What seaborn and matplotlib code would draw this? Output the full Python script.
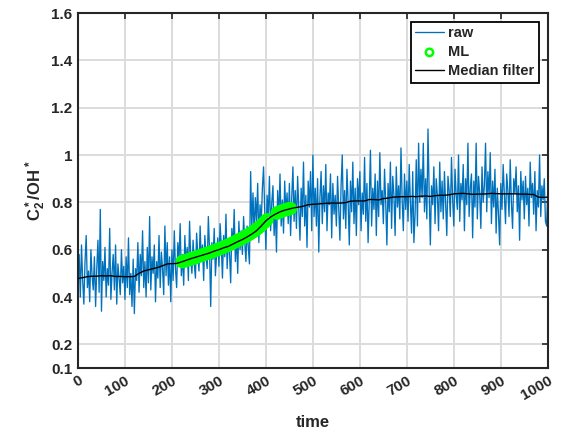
import numpy as np
import pandas as pd
import matplotlib
matplotlib.use("Agg")
import matplotlib.pyplot as plt
import seaborn as sns

# raw signal, every 2.5 time units (0 ... 1000)
raw_values = [
    0.45, 0.58, 0.40, 0.62, 0.47, 0.37, 0.55, 0.66, 0.44, 0.51, 0.38, 0.60, 0.49, 0.43, 0.57, 0.36, 0.52, 0.64, 0.42, 0.77,
    0.34, 0.55, 0.47, 0.61, 0.40, 0.52, 0.45, 0.69, 0.39, 0.50, 0.58, 0.43, 0.62, 0.37, 0.54, 0.48, 0.41, 0.60, 0.46, 0.53,
    0.39, 0.57, 0.44, 0.65, 0.41, 0.50, 0.36, 0.56, 0.33, 0.52, 0.47, 0.63, 0.42, 0.58, 0.49, 0.68, 0.44, 0.55, 0.40, 0.61,
    0.46, 0.74, 0.43, 0.57, 0.50, 0.62, 0.38, 0.55, 0.48, 0.66, 0.44, 0.59, 0.52, 0.41, 0.70, 0.49, 0.63, 0.45, 0.57, 0.38,
    0.60, 0.47, 0.68, 0.52, 0.44, 0.63, 0.55, 0.71, 0.49, 0.58, 0.45, 0.66, 0.53, 0.61, 0.47, 0.72, 0.56, 0.50, 0.64, 0.54,
    0.48, 0.67, 0.58, 0.51, 0.70, 0.55, 0.62, 0.47, 0.66, 0.57, 0.52, 0.74, 0.60, 0.36, 0.63, 0.56, 0.69, 0.49, 0.58, 0.65,
    0.53, 0.71, 0.62, 0.48, 0.66, 0.57, 0.75, 0.52, 0.64, 0.59, 0.46, 0.69, 0.61, 0.77, 0.55, 0.66, 0.50, 0.72, 0.60, 0.68,
    0.58, 0.74, 0.63, 0.55, 0.70, 0.61, 0.54, 0.93, 0.69, 0.84, 0.66, 0.82, 0.72, 0.88, 0.63, 0.79, 0.71, 0.86, 0.95, 0.76,
    0.60, 0.83, 0.74, 0.91, 0.68, 0.80, 0.87, 0.66, 0.78, 0.59, 0.85, 0.73, 0.92, 0.70, 0.81, 0.67, 0.89, 0.75, 0.84, 0.71,
    0.88, 0.66, 0.82, 0.95, 0.72, 0.85, 0.69, 0.91, 0.77, 0.64, 0.86, 0.74, 0.97, 0.70, 0.83, 0.61, 0.89, 0.78, 0.93, 0.68,
    1.00, 0.74, 0.86, 0.70, 0.90, 0.59, 0.82, 0.93, 0.71, 0.87, 0.76, 0.96, 0.68, 0.84, 0.79, 0.92, 0.65, 0.88, 0.75, 0.83,
    0.70, 0.91, 0.78, 0.64, 0.87, 1.00, 0.73, 0.85, 0.69, 0.94, 0.80, 0.62, 0.89, 0.76, 0.97, 0.71, 0.86, 0.66, 0.90, 0.79,
    0.93, 0.68, 0.84, 0.75, 0.99, 0.72, 0.88, 0.63, 0.81, 1.02, 0.70, 0.86, 0.77, 0.92, 0.66, 0.89, 0.74, 1.01, 0.79, 0.85,
    0.71, 0.94, 0.80, 0.62, 0.88, 0.76, 0.97, 0.69, 0.91, 0.83, 0.66, 0.95, 0.78, 0.87, 0.73, 1.03, 0.81, 0.68, 0.92, 0.77,
    0.89, 0.72, 0.96, 0.80, 0.67, 0.93, 0.63, 0.75, 0.98, 0.70, 1.05, 0.80, 0.94, 0.82, 1.05, 0.76, 0.90, 0.73, 1.11, 0.84,
    0.62, 0.87, 0.79, 0.95, 0.71, 0.90, 0.83, 0.68, 0.97, 0.76, 0.89, 0.73, 0.93, 0.80, 0.66, 0.91, 0.85, 0.74, 0.99, 0.81,
    0.70, 0.94, 0.83, 0.77, 1.00, 0.72, 0.88, 0.81, 0.96, 0.68, 0.90, 0.79, 1.05, 0.74, 0.86, 0.92, 0.65, 0.89, 0.78, 1.05,
    0.73, 0.91, 0.84, 0.69, 0.95, 0.80, 0.87, 1.05, 0.76, 0.93, 0.82, 1.01, 0.71, 0.89, 0.78, 0.94, 0.67, 0.86, 0.75, 0.62,
    0.88, 0.77, 0.96, 0.83, 0.71, 0.92, 0.85, 0.74, 0.98, 0.80, 0.69, 0.90, 0.84, 0.95, 0.76, 0.87, 0.64, 0.93, 0.81, 0.89,
    0.73, 0.91, 0.79, 0.86, 0.70, 0.97, 0.82, 0.88, 0.75, 0.93, 0.68, 0.85, 0.78, 1.00, 0.74, 0.87, 0.81, 0.90, 0.72, 0.70,
    0.86,
]
raw_time = np.linspace(0, 1000, len(raw_values))

# median filter, read every 10 time units
median_values = [
    0.478, 0.482, 0.486, 0.488, 0.488, 0.490, 0.489, 0.490, 0.487, 0.487,
    0.486, 0.486, 0.487, 0.500, 0.510, 0.515, 0.520, 0.525, 0.532, 0.540,
    0.541, 0.542, 0.548, 0.555, 0.562, 0.568, 0.574, 0.580, 0.586, 0.594,
    0.600, 0.608, 0.614, 0.624, 0.634, 0.643, 0.654, 0.666, 0.680, 0.700,
    0.722, 0.738, 0.750, 0.760, 0.767, 0.772, 0.777, 0.780, 0.784, 0.790,
    0.792, 0.793, 0.795, 0.796, 0.797, 0.797, 0.797, 0.799, 0.805, 0.806,
    0.806, 0.806, 0.812, 0.812, 0.810, 0.816, 0.818, 0.822, 0.823, 0.824,
    0.824, 0.825, 0.824, 0.826, 0.827, 0.825, 0.828, 0.830, 0.830, 0.832,
    0.836, 0.837, 0.838, 0.836, 0.834, 0.835, 0.835, 0.836, 0.838, 0.837,
    0.836, 0.836, 0.836, 0.836, 0.835, 0.835, 0.834, 0.833, 0.822, 0.821,
    0.822,
]
median_time = np.linspace(0, 1000, len(median_values))

# ML prediction, two stretches
ml_time = [222, 228, 234, 240, 246, 252, 258, 264, 270, 276, 282, 288, 294, 300, 306, 312,
           318, 324, 330, 336, 342, 348, 354, 360, 366, 372, 378, 384, 390, 396, 402,
           424, 430, 436, 442, 448, 452]
ml_values = [0.550, 0.553, 0.557, 0.561, 0.565, 0.569, 0.573, 0.577, 0.581, 0.585, 0.589,
             0.594, 0.598, 0.603, 0.608, 0.613, 0.618, 0.623, 0.629, 0.635, 0.641, 0.647,
             0.653, 0.660, 0.667, 0.675, 0.683, 0.692, 0.702, 0.714, 0.726,
             0.755, 0.760, 0.765, 0.769, 0.772, 0.774]

x_ticks = [0, 100, 200, 300, 400, 500, 600, 700, 800, 900, 1000]
y_ticks = [0.1, 0.2, 0.4, 0.6, 0.8, 1.0, 1.2, 1.4, 1.6]
y_ticklabels = ['0.1', '0.2', '0.4', '0.6', '0.8', '1', '1.2', '1.4', '1.6']

raw_df = pd.DataFrame({'time': raw_time, 'value': raw_values})
median_df = pd.DataFrame({'time': median_time, 'value': median_values})
ml_df = pd.DataFrame({'time': ml_time, 'value': ml_values})

sns.set_theme(style="whitegrid")
plt.rcParams['font.family'] = ['Liberation Sans', 'DejaVu Sans']
plt.rcParams['font.weight'] = 'bold'
plt.rcParams['mathtext.fontset'] = 'custom'
plt.rcParams['mathtext.bf'] = 'Liberation Sans:bold'
plt.rcParams['mathtext.rm'] = 'Liberation Sans:bold'
plt.rcParams['mathtext.default'] = 'bf'

fig = plt.figure(figsize=(5.63, 4.34), dpi=100)
ax = fig.add_axes([0.1385, 0.152, 0.8345, 0.818])

sns.lineplot(data=raw_df, x='time', y='value', color='#0072BD', linewidth=0.95,
             label='raw', ax=ax, estimator=None, sort=False)
sns.scatterplot(data=ml_df, x='time', y='value', marker='o', s=52,
                facecolors='none', edgecolor='#00FF00', linewidth=2.5,
                label='ML', ax=ax, zorder=3)
sns.lineplot(data=median_df, x='time', y='value', color='black', linewidth=1.0,
             label='Median filter', ax=ax, estimator=None, zorder=4)

ax.set_xlim(0, 1000)
ax.set_ylim(0.1, 1.6)
ax.set_xticks(x_ticks)
ax.set_yticks(y_ticks)
ax.set_yticklabels(y_ticklabels)
ax.set_xticklabels([str(t) for t in x_ticks], rotation=30, ha='right',
                   rotation_mode='anchor')

ax.grid(True, color='#dcdcdc', linewidth=1.4)
for side in ['left', 'right', 'top', 'bottom']:
    ax.spines[side].set_visible(True)
    ax.spines[side].set_color('#262626')
    ax.spines[side].set_linewidth(1.5)

ax.tick_params(axis='both', which='both', direction='in', length=4, width=1.2,
               color='#262626', top=True, right=True, labelsize=11,
               labelcolor='#262626', pad=4)
for lab in ax.get_xticklabels() + ax.get_yticklabels():
    lab.set_fontweight('bold')

ax.set_xlabel('time', fontsize=12, fontweight='bold', color='#262626', labelpad=9)
ax.set_ylabel(r'C$^*_2$/OH$^*$', fontsize=12, fontweight='bold', color='#262626', labelpad=2)

handles, labels = ax.get_legend_handles_labels()
leg = ax.legend(handles, labels, loc='upper right', fontsize=10.5, frameon=True,
                fancybox=False, framealpha=1, edgecolor='black', handlelength=2.0,
                handletextpad=0.3, borderpad=0.3, labelspacing=0.35,
                borderaxespad=0.6)
leg.get_frame().set_linewidth(1.3)
for t in leg.get_texts():
    t.set_fontweight('bold')
# smaller hollow circle for the ML entry, as in the reference legend
ml_handle = leg.legend_handles[1]
if hasattr(ml_handle, 'set_sizes'):
    ml_handle.set_sizes([28])
    ml_handle.set_linewidth(1.8)
else:
    ml_handle.set_markersize(5.5)
    ml_handle.set_markeredgewidth(1.8)

plt.savefig('out.png', dpi=100)
